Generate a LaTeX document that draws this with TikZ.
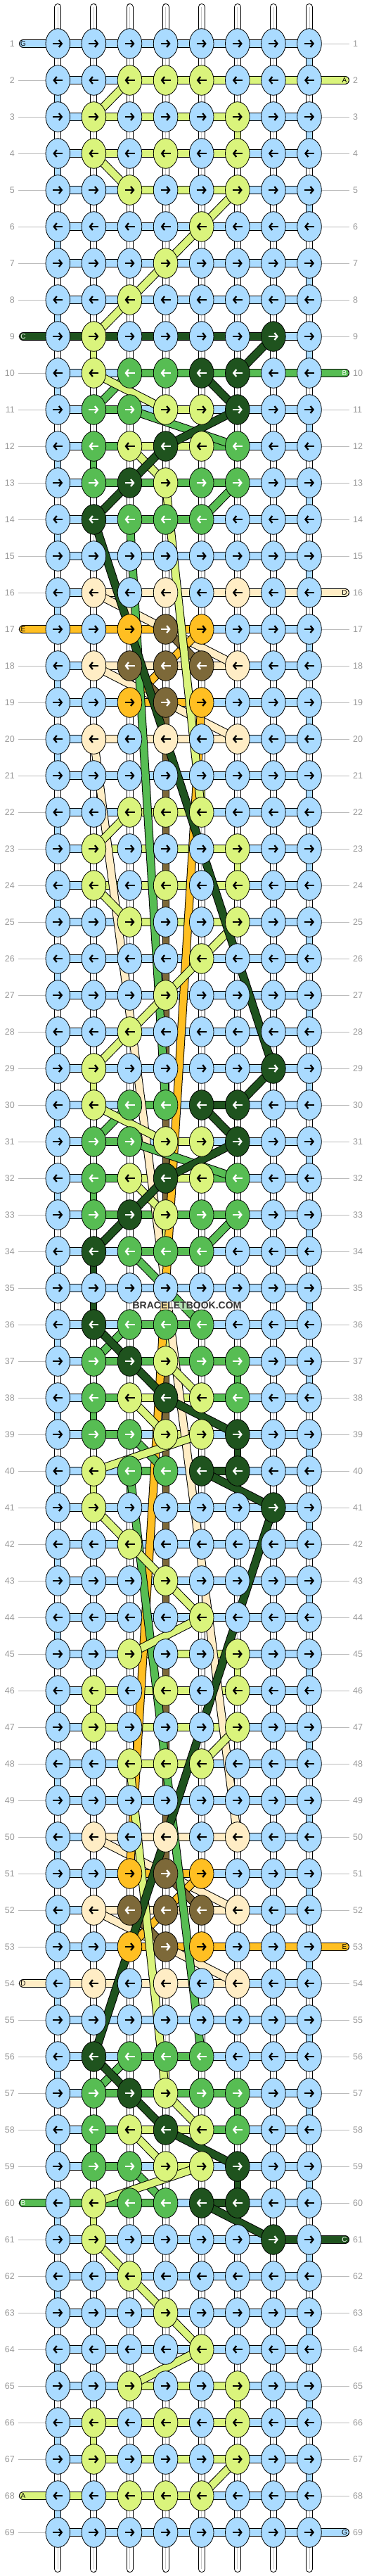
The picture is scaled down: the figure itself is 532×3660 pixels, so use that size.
\documentclass[tikz,border=0pt]{standalone}
\usepackage{fontspec}
\setmainfont{Liberation Sans}
\usetikzlibrary{arrows.meta,shapes.geometric}
\definecolor{cb}{HTML}{AADBFF}
\definecolor{cl}{HTML}{DAF47C}
\definecolor{cg}{HTML}{57BD53}
\definecolor{cd}{HTML}{1F531E}
\definecolor{cc}{HTML}{FFEDC5}
\definecolor{co}{HTML}{FFBF22}
\definecolor{cf}{HTML}{7D6939}
\definecolor{cw}{HTML}{FFFFFF}
\definecolor{labgray}{HTML}{999999}
\definecolor{rulegray}{HTML}{BBBBBB}
\definecolor{midgray}{HTML}{C8C8C8}
\colorlet{tb}{black}\colorlet{tl}{black}\colorlet{tc}{black}\colorlet{to}{black}
\colorlet{tg}{white}\colorlet{td}{white}\colorlet{tf}{white}\colorlet{tw}{black}
\tikzset{
  bandout/.style={line width=12pt, draw=black},
  bandin/.style={line width=10pt, draw=#1},
  vout/.style={line width=10pt, draw=black},
  vin/.style={line width=8pt, draw=#1},
  centerline/.style={draw=midgray, line width=0.8pt},
  knot/.style={ellipse, draw=black, line width=0.8pt, minimum width=34.6pt, minimum height=42.6pt, inner sep=0pt},
  arr/.style={line width=2.3pt, -{Straight Barb[length=4pt,width=10pt]}},
  rowlab/.style={text=labgray, font=\fontsize{12.5}{12.5}\selectfont, inner sep=0pt},
  guide/.style={draw=rulegray, line width=1pt},
  taillet/.style={font=\fontsize{10}{10}\selectfont, inner sep=0pt},
}
\newcommand\hband[3]{\draw[bandout] (#2) -- (#3); \draw[bandin=c#1] (#2) -- (#3);}
\newcommand\strand[5]{\hband{#1}{p-#2-#3}{p-#4-#5}}
\newcommand\vlink[3]{\pgfmathtruncatemacro\rn{#2+1}%
  \draw[vout] (p-#2-#3) -- (p-\rn-#3); \draw[vin=c#1] (p-#2-#3) -- (p-\rn-#3);}
\newcommand\wlink[2]{\pgfmathtruncatemacro\rn{#1+1}%
  \draw[vout] (p-#1-#2) -- (p-\rn-#2); \draw[vin=cw] (p-#1-#2) -- (p-\rn-#2); \draw[centerline] (p-#1-#2) -- (p-\rn-#2);}
\newcommand\lrow[3]{%
  \foreach \lc [count=\i] in {#3}{%
    \pgfmathtruncatemacro\j{\i+1}%
    \hband{\lc}{p-#1-\i}{p-#1-\j}}}
\newcommand\krow[3]{%
  \foreach \kc [count=\i] in {#2}{%
    \node[knot, fill=c\kc] (k-#1-\i) at (p-#1-\i) {};
    \ifodd#1\relax
      \draw[arr, draw=t\kc] ([xshift=-7pt]k-#1-\i.center) -- ([xshift=7pt]k-#1-\i.center);
    \else
      \draw[arr, draw=t\kc] ([xshift=7pt]k-#1-\i.center) -- ([xshift=-7pt]k-#1-\i.center);
    \fi}}
\newcommand\ltail[3]{%
  \draw[bandout, line cap=round] (tl-#1) -- (p-#1-1); \draw[bandin=c#2, line cap=round] (tl-#1) -- (p-#1-1);
  \node[taillet, text=t#2] (tla-#1) at (tl-#1) {#3};}
\newcommand\rtail[3]{%
  \draw[bandout, line cap=round] (tr-#1) -- (p-#1-8); \draw[bandin=c#2, line cap=round] (tr-#1) -- (p-#1-8);
  \node[taillet, text=t#2] (tra-#1) at ([xshift=-1pt]tr-#1) {#3};}
\def\allrows{%
\R{1}{b,b,b,b,b,b,b,b}{b,b,b,b,b,b,b}
\R{2}{b,b,l,l,l,b,b,b}{b,b,l,l,l,l,l}
\R{3}{b,l,b,b,b,l,b,b}{b,l,l,l,l,b,b}
\R{4}{b,l,b,l,b,l,b,b}{b,l,l,l,l,b,b}
\R{5}{b,b,l,b,b,l,b,b}{b,b,l,l,l,b,b}
\R{6}{b,b,b,b,l,b,b,b}{b,b,b,b,b,b,b}
\R{7}{b,b,b,l,b,b,b,b}{b,b,b,b,b,b,b}
\R{8}{b,b,l,b,b,b,b,b}{b,b,b,b,b,b,b}
\R{9}{b,l,b,b,b,b,d,b}{d,d,d,d,d,d,b}
\R{10}{b,l,g,g,d,d,b,b}{b,b,g,g,g,g,g}
\R{11}{b,g,g,l,l,d,b,b}{b,g,b,l,b,b,b}
\R{12}{b,g,l,d,l,g,b,b}{b,g,l,l,g,b,b}
\R{13}{b,g,d,l,g,g,b,b}{b,g,g,g,g,b,b}
\R{14}{b,d,g,g,g,b,b,b}{b,b,g,g,b,b,b}
\R{15}{b,b,b,b,b,b,b,b}{b,b,b,b,b,b,b}
\R{16}{b,c,b,c,b,c,b,b}{b,c,c,c,c,c,c}
\R{17}{b,b,o,f,o,b,b,b}{o,o,o,o,b,b,b}
\R{18}{b,c,f,f,f,c,b,b}{b,c,c,c,c,b,b}
\R{19}{b,b,o,f,o,b,b,b}{b,b,o,o,b,b,b}
\R{20}{b,c,b,c,b,c,b,b}{b,c,c,c,c,b,b}
\R{21}{b,b,b,b,b,b,b,b}{b,b,b,b,b,b,b}
\R{22}{b,b,l,l,l,b,b,b}{b,b,l,l,b,b,b}
\R{23}{b,l,b,b,b,l,b,b}{b,l,l,l,l,b,b}
\R{24}{b,l,b,l,b,l,b,b}{b,l,l,l,l,b,b}
\R{25}{b,b,l,b,b,l,b,b}{b,b,l,l,l,b,b}
\R{26}{b,b,b,b,l,b,b,b}{b,b,b,b,b,b,b}
\R{27}{b,b,b,l,b,b,b,b}{b,b,b,b,b,b,b}
\R{28}{b,b,l,b,b,b,b,b}{b,b,b,b,b,b,b}
\R{29}{b,l,b,b,b,b,d,b}{b,b,b,b,b,b,b}
\R{30}{b,l,g,g,d,d,b,b}{b,b,g,b,d,b,b}
\R{31}{b,g,g,l,l,d,b,b}{b,g,b,l,b,b,b}
\R{32}{b,g,l,d,l,g,b,b}{b,g,l,l,g,b,b}
\R{33}{b,g,d,l,g,g,b,b}{b,g,g,g,g,b,b}
\R{34}{b,d,g,g,g,b,b,b}{b,b,g,g,b,b,b}
\R{35}{b,b,b,b,b,b,b,b}{b,b,b,b,b,b,b}
\R{36}{b,d,g,g,g,b,b,b}{b,b,g,g,b,b,b}
\R{37}{b,g,d,l,g,g,b,b}{b,g,g,g,g,b,b}
\R{38}{b,g,l,d,l,g,b,b}{b,g,l,l,g,b,b}
\R{39}{b,g,g,l,l,d,b,b}{b,g,b,l,b,b,b}
\R{40}{b,l,g,g,d,d,b,b}{b,b,g,b,d,b,b}
\R{41}{b,l,b,b,b,b,d,b}{b,b,b,b,b,b,b}
\R{42}{b,b,l,b,b,b,b,b}{b,b,b,b,b,b,b}
\R{43}{b,b,b,l,b,b,b,b}{b,b,b,b,b,b,b}
\R{44}{b,b,b,b,l,b,b,b}{b,b,b,b,b,b,b}
\R{45}{b,b,l,b,b,l,b,b}{b,b,l,l,l,b,b}
\R{46}{b,l,b,l,b,l,b,b}{b,l,l,l,l,b,b}
\R{47}{b,l,b,b,b,l,b,b}{b,l,l,l,l,b,b}
\R{48}{b,b,l,l,l,b,b,b}{b,b,l,l,b,b,b}
\R{49}{b,b,b,b,b,b,b,b}{b,b,b,b,b,b,b}
\R{50}{b,c,b,c,b,c,b,b}{b,c,c,c,c,b,b}
\R{51}{b,b,o,f,o,b,b,b}{b,b,o,o,b,b,b}
\R{52}{b,c,f,f,f,c,b,b}{b,c,c,c,c,b,b}
\R{53}{b,b,o,f,o,b,b,b}{b,b,o,o,o,o,o}
\R{54}{b,c,b,c,b,c,b,b}{c,c,c,c,c,b,b}
\R{55}{b,b,b,b,b,b,b,b}{b,b,b,b,b,b,b}
\R{56}{b,d,g,g,g,b,b,b}{b,b,g,g,b,b,b}
\R{57}{b,g,d,l,g,g,b,b}{b,g,g,g,g,b,b}
\R{58}{b,g,l,d,l,g,b,b}{b,g,l,l,g,b,b}
\R{59}{b,g,g,l,l,d,b,b}{b,g,b,l,b,b,b}
\R{60}{b,l,g,g,d,d,b,b}{g,g,g,b,d,b,b}
\R{61}{b,l,b,b,b,b,d,b}{b,b,b,b,b,b,d}
\R{62}{b,b,l,b,b,b,b,b}{b,b,b,b,b,b,b}
\R{63}{b,b,b,l,b,b,b,b}{b,b,b,b,b,b,b}
\R{64}{b,b,b,b,l,b,b,b}{b,b,b,b,b,b,b}
\R{65}{b,b,l,b,b,l,b,b}{b,b,l,l,l,b,b}
\R{66}{b,l,b,l,b,l,b,b}{b,l,l,l,l,b,b}
\R{67}{b,l,b,b,b,l,b,b}{b,l,l,l,l,b,b}
\R{68}{b,b,l,l,l,b,b,b}{l,l,l,l,b,b,b}
\R{69}{b,b,b,b,b,b,b,b}{b,b,b,b,b,b,b}
}
\begin{document}
\begin{tikzpicture}[x=1pt,y=-1pt]
\useasboundingbox (0,0) rectangle (532,3660);
\foreach \r in {1,...,69}{%
  \foreach \cc in {1,...,8}{\coordinate (p-\r-\cc) at ({82.3+(\cc-1)*51.1},{62+(\r-1)*52});}
  \coordinate (gl-\r) at (26,{62+(\r-1)*52});
  \coordinate (gr-\r) at (497,{62+(\r-1)*52});
  \coordinate (tl-\r) at (33,{62+(\r-1)*52});
  \coordinate (tr-\r) at (491,{62+(\r-1)*52});
  \node[rowlab, anchor=east] (ll-\r) at (21,{62+(\r-1)*52}) {\r};
  \node[rowlab, anchor=west] (rl-\r) at (502,{62+(\r-1)*52}) {\r};
  \draw[guide] (gl-\r) -- (p-\r-1);
  \draw[guide] (gr-\r) -- (p-\r-8);
}
% stubs
\foreach \cc in {1,...,8}{%
  \coordinate (st-\cc) at ({82.3+(\cc-1)*51.1},10);
  \coordinate (sb-\cc) at ({82.3+(\cc-1)*51.1},3650);
  \draw[vout, line cap=round] (st-\cc) -- (p-1-\cc); \draw[vin=cw, line cap=round] (st-\cc) -- (p-1-\cc); \draw[centerline] (st-\cc) -- (p-1-\cc);
  \draw[vout, line cap=round] (sb-\cc) -- (p-69-\cc); \draw[vin=cw, line cap=round] (sb-\cc) -- (p-69-\cc); \draw[centerline] (sb-\cc) -- (p-69-\cc);
}
% white vertical links
\foreach \r in {1,...,68}{\foreach \cc in {1,...,8}{\wlink{\r}{\cc}}}
% edge turns
\foreach \r in {1,3,...,67}{\vlink{b}{\r}{8}}
\foreach \r in {2,4,...,68}{\vlink{b}{\r}{1}}
% brown vertical
\foreach \r in {19,...,50}{\vlink{f}{\r}{4}}
% colored vertical links
\foreach \r/\cc in {3/6,9/2,11/5,13/4,21/5,23/6,29/2,31/5,33/4,34/4,35/4,36/4,40/2,45/6,46/2,56/4,60/2,65/6,66/2}{\vlink{l}{\r}{\cc}}
\foreach \r/\cc in {12/2,14/3,29/4,32/2,37/6,38/2,40/3,57/6,58/2}{\vlink{g}{\r}{\cc}}
\foreach \r/\cc in {34/2,35/2,39/6,59/6}{\vlink{d}{\r}{\cc}}
% tails
\ltail{1}{b}{G}\ltail{9}{d}{C}\ltail{17}{o}{E}\ltail{54}{c}{D}\ltail{60}{g}{B}\ltail{68}{l}{A}
\rtail{2}{l}{A}\rtail{10}{g}{B}\rtail{16}{c}{D}\rtail{53}{o}{E}\rtail{61}{d}{C}\rtail{69}{b}{G}
% horizontal links
\let\R\lrow \allrows
% strands
\strand{c}{16}{2}{18}{6}\strand{c}{18}{2}{20}{6}\strand{c}{20}{2}{50}{6}\strand{c}{50}{2}{52}{6}\strand{c}{52}{2}{54}{6}
\strand{o}{17}{5}{19}{3}\strand{o}{19}{5}{51}{3}\strand{o}{51}{5}{53}{3}
\strand{f}{17}{4}{18}{5}\strand{f}{18}{3}{19}{4}\strand{f}{51}{4}{52}{5}\strand{f}{52}{3}{53}{4}
\strand{g}{10}{3}{11}{2}\strand{g}{11}{3}{12}{6}\strand{g}{13}{6}{14}{5}\strand{g}{14}{3}{30}{4}
\strand{g}{30}{3}{31}{2}\strand{g}{31}{3}{32}{6}\strand{g}{33}{6}{34}{5}\strand{g}{34}{3}{36}{5}
\strand{g}{36}{3}{37}{2}\strand{g}{39}{3}{40}{4}\strand{g}{40}{3}{56}{5}\strand{g}{56}{3}{57}{2}\strand{g}{59}{3}{60}{4}
\strand{l}{2}{3}{3}{2}\strand{l}{4}{2}{5}{3}\strand{l}{5}{6}{6}{5}\strand{l}{6}{5}{7}{4}\strand{l}{7}{4}{8}{3}\strand{l}{8}{3}{9}{2}
\strand{l}{10}{2}{11}{4}\strand{l}{12}{3}{13}{4}\strand{l}{13}{4}{22}{5}\strand{l}{22}{3}{23}{2}\strand{l}{24}{2}{25}{3}
\strand{l}{25}{6}{26}{5}\strand{l}{26}{5}{27}{4}\strand{l}{27}{4}{28}{3}\strand{l}{28}{3}{29}{2}\strand{l}{30}{2}{31}{4}
\strand{l}{32}{3}{33}{4}\strand{l}{37}{4}{38}{5}\strand{l}{38}{3}{39}{4}\strand{l}{39}{5}{40}{2}\strand{l}{41}{2}{42}{3}
\strand{l}{42}{3}{43}{4}\strand{l}{43}{4}{44}{5}\strand{l}{44}{5}{45}{3}\strand{l}{47}{6}{48}{5}\strand{l}{48}{3}{57}{4}
\strand{l}{57}{4}{58}{5}\strand{l}{58}{3}{59}{4}\strand{l}{59}{5}{60}{2}\strand{l}{61}{2}{62}{3}\strand{l}{62}{3}{63}{4}
\strand{l}{63}{4}{64}{5}\strand{l}{64}{5}{65}{3}\strand{l}{67}{6}{68}{5}
\strand{d}{9}{7}{10}{6}\strand{d}{10}{5}{11}{6}\strand{d}{11}{6}{12}{4}\strand{d}{12}{4}{13}{3}\strand{d}{13}{3}{14}{2}
\strand{d}{14}{2}{29}{7}\strand{d}{29}{7}{30}{6}\strand{d}{30}{5}{31}{6}\strand{d}{31}{6}{32}{4}\strand{d}{32}{4}{33}{3}
\strand{d}{33}{3}{34}{2}\strand{d}{36}{2}{37}{3}\strand{d}{37}{3}{38}{4}\strand{d}{38}{4}{39}{6}\strand{d}{40}{5}{41}{7}
\strand{d}{41}{7}{56}{2}\strand{d}{56}{2}{57}{3}\strand{d}{57}{3}{58}{4}\strand{d}{58}{4}{59}{6}\strand{d}{60}{5}{61}{7}
% knots
\let\R\krow \allrows
\node[font=\bfseries\fontsize{14}{14}\selectfont, text=black!80, fill=white, fill opacity=0.55, text opacity=1, inner sep=1pt] (wm) at (266,1855) {BRACELETBOOK.COM};
\end{tikzpicture}
\end{document}
